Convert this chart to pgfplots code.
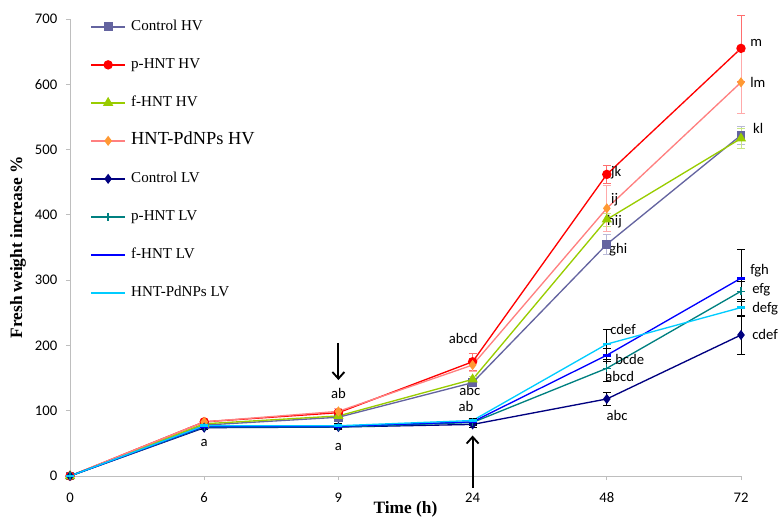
\documentclass[border=0pt]{standalone}
\usepackage{pgfplots}
\pgfplotsset{compat=1.18}
\usepackage{fontspec}
\setmainfont{Carlito}
\newfontfamily\timesf{Liberation Serif}
\usetikzlibrary{arrows.meta}

\definecolor{axgray}{RGB}{190,190,190}
\definecolor{ctrlhv}{RGB}{100,100,160}
\definecolor{ctrlhverr}{RGB}{185,185,215}
\definecolor{phnthv}{RGB}{255,0,0}
\definecolor{phnthverr}{RGB}{255,110,110}
\definecolor{fhnthv}{RGB}{153,204,0}
\definecolor{fhnthverr}{RGB}{200,230,130}
\definecolor{pdline}{RGB}{255,128,128}
\definecolor{pdmark}{RGB}{255,153,51}
\definecolor{pderr}{RGB}{255,170,170}
\definecolor{ctrllv}{RGB}{0,0,128}
\definecolor{phntlv}{RGB}{0,128,128}
\definecolor{fhntlv}{RGB}{0,0,255}
\definecolor{pdlv}{RGB}{0,204,255}

\begin{document}
\begin{tikzpicture}
\path[use as bounding box] (-52.5pt,-31.5pt) rectangle (532.5pt,357pt);
\begin{axis}[
    scale only axis,
    width=503.25pt, height=342.75pt,
    xmin=0, xmax=5, ymin=0, ymax=700,
    xtick={0,...,5}, xticklabels={0,6,9,24,48,72},
    ytick={0,100,...,700},
    axis x line*=bottom, axis y line*=left,
    axis line style={draw=axgray, line width=0.6pt, -},
    tick align=outside, major tick length=3pt,
    tick style={draw=axgray, line width=0.6pt},
    /pgf/number format/assume math mode=true,
    ticklabel style={font=\fontsize{11}{13}\selectfont},
    xticklabel style={yshift=-6pt},
    yticklabel style={xshift=-3pt},
    xlabel={Time (h)},
    ylabel={Fresh weight increase \%},
    every axis x label/.style={at={(axis description cs:0.5,-0.073)}, anchor=center, font=\timesf\bfseries\fontsize{13}{15}\selectfont},
    every axis y label/.style={at={(axis description cs:-0.0775,0.5)}, rotate=90, anchor=center, font=\timesf\bfseries\fontsize{13}{15}\selectfont},
    clip=false,
    legend style={at={(axis description cs:0.03,0.998)}, anchor=north west, draw=none, fill=none,
        inner sep=0pt, row sep=18.5pt, column sep=4pt,
        font=\timesf\fontsize{11.3}{12}\selectfont,
        nodes={inner sep=0pt, text height=8pt, text depth=2pt}},
    legend cell align=left,
    legend image code/.code={\draw[mark repeat=2,mark phase=2,#1] plot coordinates {(0cm,0cm) (0.45cm,0cm) (0.9cm,0cm)};},
    every axis plot/.append style={line width=1pt},
]

% Control HV
\addplot[color=ctrlhv, mark=square*, mark size=2.8pt,
    error bars/.cd, y dir=both, y explicit,
    error bar style={color=ctrlhverr, line width=0.6pt},
    error mark options={rotate=90, color=ctrlhverr, mark size=3pt, line width=0.6pt}]
coordinates {
    (0,0) +- (0,0)
    (1,78) +- (0,3)
    (2,90) +- (0,3)
    (3,143) +- (0,5)
    (4,355) +- (0,15)
    (5,522) +- (0,14)
};
\addlegendentry{Control HV}

% p-HNT HV
\addplot[color=phnthv, mark=*, mark size=3pt,
    error bars/.cd, y dir=both, y explicit,
    error bar style={color=phnthverr, line width=0.6pt},
    error mark options={rotate=90, color=phnthverr, mark size=3pt, line width=0.6pt}]
coordinates {
    (0,0) +- (0,0)
    (1,83) +- (0,3)
    (2,97) +- (0,4)
    (3,175) +- (0,13)
    (4,462) +- (0,14)
    (5,655) +- (0,50)
};
\addlegendentry{p-HNT HV}

% f-HNT HV
\addplot[color=fhnthv, mark=triangle*, mark size=3.5pt,
    error bars/.cd, y dir=both, y explicit,
    error bar style={color=fhnthverr, line width=0.6pt},
    error mark options={rotate=90, color=fhnthverr, mark size=3pt, line width=0.6pt}]
coordinates {
    (0,0) +- (0,0)
    (1,80) +- (0,3)
    (2,92) +- (0,3)
    (3,148) +- (0,5)
    (4,393) +- (0,10)
    (5,517) +- (0,15)
};
\addlegendentry{f-HNT HV}

% HNT-PdNPs HV
\addplot[color=pdline, mark=diamond*, mark size=3pt,
    mark options={draw=pdmark, fill=pdmark},
    error bars/.cd, y dir=both, y explicit,
    error bar style={color=pderr, line width=0.6pt},
    error mark options={rotate=90, color=pderr, mark size=3pt, line width=0.6pt}]
coordinates {
    (0,0) +- (0,0)
    (1,83) +- (0,3)
    (2,99) +- (0,4)
    (3,170) +- (0,10)
    (4,410) +- (0,35)
    (5,603) +- (0,47)
};
\addlegendentry{{\fontsize{13.8}{14}\selectfont HNT-PdNPs HV}}

% Control LV
\addplot[color=ctrllv, mark=diamond*, mark size=3pt,
    error bars/.cd, y dir=both, y explicit,
    error bar style={color=black, line width=0.6pt},
    error mark options={rotate=90, color=black, mark size=3pt, line width=0.6pt}]
coordinates {
    (0,0) +- (0,0)
    (1,74) +- (0,3)
    (2,75) +- (0,3)
    (3,79) +- (0,4)
    (4,118) +- (0,10)
    (5,216) +- (0,29)
};
\addlegendentry{Control LV}

% p-HNT LV
\addplot[color=phntlv, mark=+, mark size=3pt,
    error bars/.cd, y dir=both, y explicit,
    error bar style={color=black, line width=0.6pt},
    error mark options={rotate=90, color=black, mark size=3pt, line width=0.6pt}]
coordinates {
    (0,0) +- (0,0)
    (1,75) +- (0,3)
    (2,75) +- (0,3)
    (3,82) +- (0,4)
    (4,165) +- (0,20)
    (5,283) +- (0,15)
};
\addlegendentry{p-HNT LV}

% f-HNT LV
\addplot[color=fhntlv, mark=-, mark size=3pt, mark options={line width=2pt},
    error bars/.cd, y dir=both, y explicit,
    error bar style={color=black, line width=0.6pt},
    error mark options={rotate=90, color=black, mark size=3pt, line width=0.6pt}]
coordinates {
    (0,0) +- (0,0)
    (1,76) +- (0,3)
    (2,76) +- (0,3)
    (3,83) +- (0,4)
    (4,185) +- (0,10)
    (5,303) +- (0,44)
};
\addlegendentry{f-HNT LV}

% HNT-PdNPs LV
\addplot[color=pdlv, mark=-, mark size=3pt, mark options={line width=2pt},
    error bars/.cd, y dir=both, y explicit,
    error bar style={color=black, line width=0.6pt},
    error mark options={rotate=90, color=black, mark size=3pt, line width=0.6pt}]
coordinates {
    (0,0) +- (0,0)
    (1,77) +- (0,3)
    (2,77) +- (0,3)
    (3,85) +- (0,4)
    (4,202) +- (0,23)
    (5,258) +- (0,12)
};
\addlegendentry{HNT-PdNPs LV}

% letters of significance
\begin{scope}[every node/.style={font=\fontsize{11}{13}\selectfont, inner sep=0pt}]
\node at (axis cs:1,50) {a};
\node at (axis cs:2,127) {ab};
\node at (axis cs:2,44) {a};
\node at (axis cs:2.93,211) {abcd};
\node at (axis cs:2.98,131) {abc};
\node at (axis cs:2.95,106) {ab};
\node[anchor=west] at (axis cs:4.031,464) {jk};
\node[anchor=west] at (axis cs:4.031,423) {ij};
\node[anchor=west] at (axis cs:4.001,390) {hij};
\node[anchor=west] at (axis cs:4.016,346) {ghi};
\node[anchor=west] at (axis cs:4.024,225) {cdef};
\node[anchor=west] at (axis cs:4.061,178) {bcde};
\node[anchor=west] at (axis cs:3.987,152) {abcd};
\node at (axis cs:4.076,92) {abc};
\node[anchor=west] at (axis cs:5.067,663) {m};
\node[anchor=west] at (axis cs:5.067,603) {lm};
\node[anchor=west] at (axis cs:5.089,533) {kl};
\node[anchor=west] at (axis cs:5.067,315) {fgh};
\node[anchor=west] at (axis cs:5.082,285) {efg};
\node[anchor=west] at (axis cs:5.082,256) {defg};
\node[anchor=west] at (axis cs:5.082,217) {cdef};
\end{scope}

% arrows
\draw[line width=1.4pt, -{Straight Barb[length=5pt,width=9pt]}] (axis cs:2,204) -- (axis cs:2,147);
\draw[line width=1.4pt, -{Straight Barb[length=5pt,width=9pt]}] (axis cs:3,-18) -- (axis cs:3,62);

\end{axis}
\end{tikzpicture}
\end{document}
